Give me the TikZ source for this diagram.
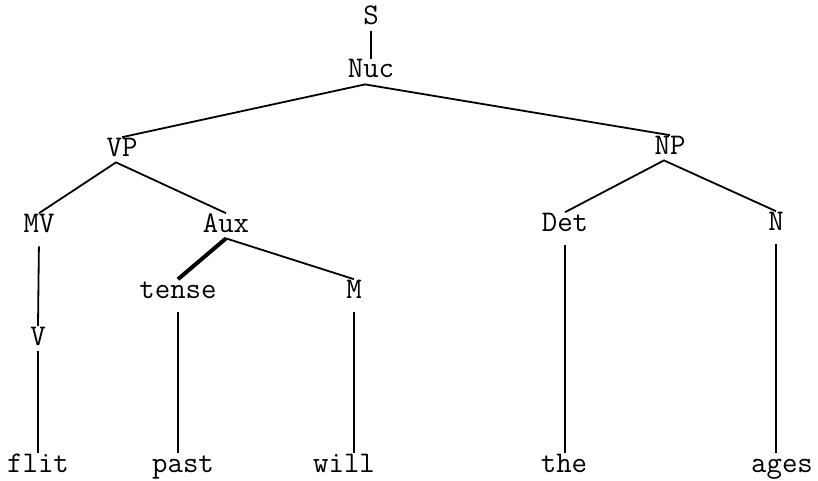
\documentclass[tikz,border=0pt]{standalone}
\begin{document}
\begin{tikzpicture}[x=0.5pt,y=-0.5pt,
  lab/.style={anchor=base,inner sep=3pt,text height=0.62em,text depth=0pt,font=\fontsize{15}{18}\selectfont\ttfamily},
  branch/.style={line width=0.9pt},
  stem/.style={line width=0.9pt,shorten <=4pt}]
\useasboundingbox (0,0) rectangle (818,481);
% categories
\node[lab] (S) at (371,25) {S};
\node[lab] (Nuc) at (371,78) {Nuc};
\node[lab] (VP) at (122,156) {VP};
\node[lab] (NP) at (670,154) {NP};
\node[lab] (MV) at (39,232) {MV};
\node[lab] (Aux) at (226,232) {Aux};
\node[lab] (Det) at (565,231) {Det};
\node[lab] (N) at (776,230) {N};
\node[lab] (tense) at (178,298) {tense};
\node[lab] (M) at (354,298) {M};
\node[lab] (V) at (38,345) {V};
% words
\node[lab] (flit) at (38,472) {flit};
\node[lab] (past) at (183,472) {past};
\node[lab] (will) at (344,472) {will};
\node[lab] (the) at (564,472) {the};
\node[lab] (ages) at (782,472) {ages};
% branches
\draw[branch] (S) -- (Nuc);
\draw[branch] (VP.north) -- ([xshift=-3pt]Nuc.south) -- (NP.north);
\draw[branch] (MV.north) -- ([xshift=-3pt]VP.south) -- (Aux.north);
\draw[branch] (Det.north) -- ([xshift=-3pt]NP.south) -- (N.north);
\draw[branch] (Aux.south) -- (M.north);
\draw[branch,line width=2pt] (Aux.south) -- (tense.north);
\draw[stem] (MV.south) -- (V.north);
\draw[branch] (V.south) -- (flit.north);
\draw[stem] (tense.south) -- (tense.south |- past.north);
\draw[stem] (M.south) -- (M.south |- will.north);
\draw[stem] (Det.south) -- (Det.south |- the.north);
\draw[stem] (N.south) -- (N.south |- ages.north);
\end{tikzpicture}
\end{document}
